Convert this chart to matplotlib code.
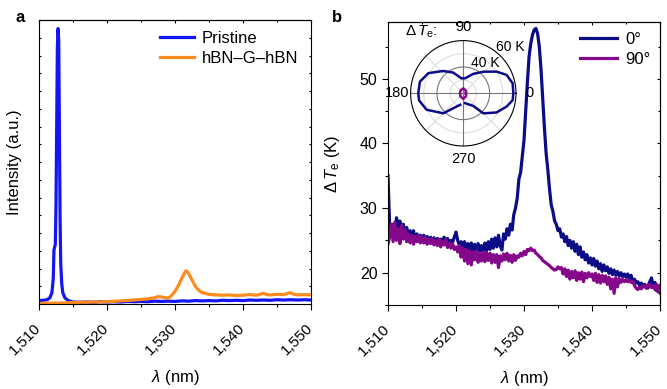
import numpy as np
import matplotlib
matplotlib.use("Agg")
import matplotlib.pyplot as plt
from matplotlib.ticker import MultipleLocator

plt.rcParams['font.family'] = ['Liberation Sans', 'DejaVu Sans']
plt.rcParams['mathtext.fontset'] = 'custom'
plt.rcParams['mathtext.rm'] = 'Liberation Sans'
plt.rcParams['mathtext.it'] = 'Liberation Sans:italic'
plt.rcParams['axes.linewidth'] = 0.8

# ---- panel a: normalised emission spectra ----
pristine_x = [1510.0, 1510.6, 1511.2, 1511.6, 1511.9, 1512.1, 1512.2, 1512.3, 1512.4,
              1512.5, 1512.6, 1512.7, 1512.8, 1512.9, 1513.0, 1513.1, 1513.2, 1513.35,
              1513.5, 1513.8, 1514.3, 1515.0, 1516.0, 1517.0, 1518.0, 1519.0, 1520.0,
              1521.0, 1522.0, 1523.0, 1524.0, 1525.0, 1526.0, 1527.0, 1528.0, 1529.0,
              1530.0, 1531.0, 1532.0, 1533.0, 1534.0, 1535.0, 1536.0, 1537.0, 1538.0,
              1539.0, 1540.0, 1541.0, 1542.0, 1543.0, 1544.0, 1545.0, 1546.0, 1547.0,
              1548.0, 1549.0, 1550.0]
pristine_y = [0.012, 0.013, 0.015, 0.022, 0.04, 0.09, 0.19, 0.20, 0.21,
              0.35, 0.62, 0.90, 0.97, 0.93, 0.62, 0.30, 0.14, 0.07,
              0.04, 0.022, 0.012, 0.007, 0.006, 0.007, 0.006, 0.008, 0.007,
              0.008, 0.007, 0.009, 0.008, 0.009, 0.008, 0.010, 0.009, 0.010,
              0.009, 0.011, 0.010, 0.012, 0.011, 0.012, 0.011, 0.013, 0.012,
              0.013, 0.012, 0.014, 0.013, 0.014, 0.013, 0.015, 0.014, 0.015,
              0.014, 0.015, 0.014]

hbn_x = [1510.0, 1512.0, 1514.0, 1516.0, 1518.0, 1520.0, 1522.0, 1524.0, 1526.0,
         1527.0, 1527.5, 1528.0, 1528.5, 1529.0, 1529.5, 1530.0, 1530.5, 1531.0,
         1531.3, 1531.6, 1531.9, 1532.2, 1532.6, 1533.0, 1533.5, 1534.0, 1535.0,
         1536.0, 1537.0, 1538.0, 1539.0, 1540.0, 1541.0, 1542.0, 1542.5, 1543.0,
         1543.5, 1544.0, 1545.0, 1546.0, 1546.5, 1547.0, 1547.5, 1548.0, 1549.0, 1550.0]
hbn_y = [0.002, 0.003, 0.004, 0.006, 0.007, 0.008, 0.011, 0.014, 0.018,
         0.022, 0.026, 0.025, 0.022, 0.020, 0.030, 0.045, 0.065, 0.090,
         0.105, 0.117, 0.112, 0.098, 0.080, 0.062, 0.048, 0.040, 0.034,
         0.032, 0.031, 0.032, 0.030, 0.031, 0.033, 0.031, 0.034, 0.038,
         0.033, 0.032, 0.034, 0.033, 0.037, 0.040, 0.034, 0.032, 0.033, 0.032]

# ---- panel b: electron temperature vs wavelength ----
dte_0deg = [35.0,
    27.0, 26.0, 27.5, 26.0, 28.5, 27.0, 28.0, 26.5, 27.5, 26.0, 27.0, 25.5,
    26.5, 25.5, 26.5, 25.0, 26.0, 25.0, 25.8, 25.0, 25.8, 25.0, 25.6, 25.0,
    25.5, 24.8, 25.4, 24.8, 25.3, 24.6, 25.2, 24.8, 25.5, 24.7, 25.3, 24.5,
    25.0, 24.7, 25.5, 26.3, 25.0, 24.2, 24.8, 24.0, 24.8, 23.5, 24.5, 23.4,
    24.6, 23.2, 24.4, 23.5, 24.5, 23.3, 24.2, 23.2, 24.6, 23.4, 24.8, 23.6,
    25.2, 23.8, 25.4, 24.0, 25.8, 24.2, 23.5, 26.0, 25.2, 26.8, 25.8, 27.5,
    26.6, 29.0, 30.0, 31.5, 34.5, 35.5, 38.0, 40.5, 45.0, 49.5, 53.5, 55.5,
    56.8, 57.6, 57.8, 57.0, 55.0, 51.5, 47.0, 42.5, 38.5, 36.0, 33.0, 30.5,
    29.5, 28.0, 27.5, 26.5, 26.8, 25.5, 26.0, 24.8, 25.6, 24.2, 25.0, 23.8,
    24.8, 23.3, 24.4, 22.8, 24.0, 22.4, 23.2, 22.0, 22.8, 21.5, 22.3, 21.2,
    22.2, 21.0, 21.8, 20.6, 21.4, 20.2, 21.2, 20.3, 20.9, 19.9, 20.6, 19.7,
    20.4, 19.6, 20.2, 19.5, 20.0, 19.4, 19.8, 19.3, 19.8, 19.0, 19.6, 18.5,
    19.0, 18.4, 18.6, 18.0, 18.4, 17.8, 18.2, 17.6, 18.0, 18.6, 19.2, 17.8,
    18.5, 17.2, 17.6, 16.9]
dte_90deg = [24.5,
    25.5, 27.5, 24.8, 27.8, 25.0, 26.8, 24.5, 27.3, 25.2, 26.6, 24.8, 26.0,
    24.6, 25.8, 24.4, 25.6, 24.8, 25.8, 24.6, 25.5, 24.6, 25.4, 24.4, 25.2,
    24.5, 25.3, 24.3, 25.0, 24.2, 25.2, 24.0, 24.8, 24.3, 25.1, 23.9, 24.6,
    23.8, 24.5, 23.6, 24.0, 23.2, 24.2, 22.4, 23.8, 21.8, 23.6, 21.4, 23.4,
    21.2, 23.2, 22.0, 23.4, 21.6, 23.0, 21.8, 23.2, 21.7, 23.1, 21.9, 23.0,
    21.5, 22.8, 21.6, 22.8, 20.8, 22.6, 21.8, 22.9, 22.0, 23.0, 21.8, 22.7,
    21.6, 22.8, 21.9, 22.6, 22.4, 23.0, 22.6, 23.3, 22.8, 23.6, 23.4, 23.8,
    23.4, 23.5, 23.0, 22.8, 22.5, 22.3, 21.9, 21.7, 21.5, 21.3, 21.1, 20.8,
    20.6, 20.4, 20.5, 20.9, 20.6, 20.8, 19.8, 20.6, 19.4, 20.4, 19.0, 20.2,
    19.2, 20.3, 18.8, 20.0, 19.0, 20.1, 18.6, 19.9, 19.2, 20.0, 19.4, 19.8,
    18.8, 19.9, 18.5, 19.7, 18.4, 19.6, 18.6, 19.5, 18.2, 19.3, 17.5, 19.0,
    16.8, 19.2, 17.8, 19.1, 18.5, 19.0, 18.6, 18.9, 18.6, 18.8, 18.5, 18.7,
    18.0, 17.6, 17.4, 17.8, 17.5, 18.0, 17.8, 18.0, 17.6, 18.2, 17.7, 18.0,
    17.4, 18.2, 17.0, 18.0]
lam_0deg = np.linspace(1510, 1550, len(dte_0deg))
lam_90deg = np.linspace(1510, 1550, len(dte_90deg))

# ---- inset: polarisation dependence of peak dTe ----
pol_angle_0 = [280, 308, 315, 330, 343, 352, 360, 371.5, 383, 393, 407, 423, 443,
               457, 476, 492, 510, 525, 540, 549, 564, 585, 596, 615]
pol_dte_0 = [27.6, 32.1, 41.5, 49.1, 54.4, 57.8, 58.0, 58.2, 55.7, 50.2, 42.4, 36.5, 31.5,
             31.4, 37.5, 42.8, 50.6, 54.1, 54.2, 54.0, 50.6, 41.5, 33.7, 29.0]
pol_angle_90 = [0, 45, 90, 135, 180, 225, 270, 315, 360]
pol_dte_90 = [22.0, 22.8, 23.8, 23.0, 22.5, 23.2, 24.3, 23.0, 22.0]

x_ticks = [1510, 1520, 1530, 1540, 1550]
x_tick_labels = ['1,510', '1,520', '1,530', '1,540', '1,550']
b_yticks = [20, 30, 40, 50]

c_pristine = '#1414f5'
c_hbn = '#ff8a1e'
c_0 = '#0c0c86'
c_90 = '#86088a'

fig = plt.figure(figsize=(6.67, 3.89), dpi=100)
ax_a = fig.add_axes([39/667, 1-304/389, 272/667, 284/389])
ax_b = fig.add_axes([388/667, 1-305/389, 272/667, 283/389])


def style_x(ax):
    ax.set_xlim(1510, 1550)
    ax.set_xticks(x_ticks)
    ax.set_xticklabels(x_tick_labels)
    ax.xaxis.set_minor_locator(MultipleLocator(5))
    ax.tick_params(axis='x', which='both', direction='out', top=False, labelsize=11, pad=12)
    ax.tick_params(axis='x', which='major', length=4, width=0.8)
    ax.tick_params(axis='x', which='minor', length=2.5, width=0.8)
    plt.setp(ax.get_xticklabels(), rotation=45, ha='right', va='center', rotation_mode='anchor')
    top = ax.secondary_xaxis('top')
    top.set_xticks(x_ticks)
    top.xaxis.set_minor_locator(MultipleLocator(5))
    top.tick_params(which='both', direction='in', labeltop=False, width=0.8)
    top.tick_params(which='major', length=2.5)
    top.tick_params(which='minor', length=1.5)
    ax.set_xlabel(r'$\lambda$ (nm)', fontsize=12)


# panel a
ax_a.plot(pristine_x, pristine_y, color=c_pristine, lw=2.3, label='Pristine')
ax_a.plot(hbn_x, hbn_y, color=c_hbn, lw=2.3, label='hBN–G–hBN')
ax_a.set_ylim(0, 1)
ax_a.yaxis.set_major_locator(MultipleLocator(1/16))
ax_a.tick_params(axis='y', direction='in', left=True, right=True, labelleft=False,
                 length=1.5, width=0.8)
style_x(ax_a)
ax_a.set_ylabel('Intensity (a.u.)', fontsize=12)
ax_a.yaxis.set_label_coords(-0.062, 0.5)
ax_a.xaxis.set_label_coords(0.5, -0.225)
ax_a.legend(loc='upper right', bbox_to_anchor=(0.985, 0.99), frameon=False, fontsize=12,
            handlelength=2.0, handletextpad=0.5, borderpad=0, labelspacing=0.3)

# panel b
ax_b.plot(lam_0deg, dte_0deg, color=c_0, lw=2.3, label='0°')
ax_b.plot(lam_90deg, dte_90deg, color=c_90, lw=2.3, label='90°')
ax_b.set_ylim(15, 58.8)
ax_b.set_yticks(b_yticks)
ax_b.yaxis.set_minor_locator(MultipleLocator(5))
ax_b.tick_params(axis='y', which='both', direction='out', right=False, labelsize=11.5, width=0.8)
ax_b.tick_params(axis='y', which='major', length=4)
ax_b.tick_params(axis='y', which='minor', length=2.5)
right = ax_b.secondary_yaxis('right')
right.set_yticks(b_yticks)
right.yaxis.set_minor_locator(MultipleLocator(5))
right.tick_params(which='both', direction='in', labelright=False, width=0.8)
right.tick_params(which='major', length=2.5)
right.tick_params(which='minor', length=1.5)
style_x(ax_b)
ax_b.set_ylabel(r'$\Delta\,T_{\rm e}$ (K)', fontsize=12)
ax_b.yaxis.set_label_coords(-0.17, 0.5)
ax_b.xaxis.set_label_coords(0.5, -0.225)
ax_b.legend(loc='upper right', bbox_to_anchor=(0.995, 0.995), frameon=False, fontsize=12,
            handlelength=2.2, handletextpad=0.5, borderpad=0, labelspacing=0.3)
ax_b.text(0.062, 0.965, r'$\Delta\,T_{\rm e}$:', transform=ax_b.transAxes, fontsize=11,
          ha='left', va='center')

# polar inset
ax_p = fig.add_axes([(463.3-52.7)/667, 1-(93.3+52.7)/389, 105.4/667, 105.4/389],
                    projection='polar')
ax_p.set_ylim(20, 60)
ax_p.grid(False)
ax_p.set_yticks([])
ring = np.linspace(0, 2*np.pi, 200)
for rr, cc in [(30, '#dddddd'), (50, '#dddddd'), (40, '#777777')]:
    ax_p.plot(ring, np.full_like(ring, rr), color=cc, lw=0.8, zorder=1)
for ang in [45, 135, 225, 315]:
    ax_p.plot([np.deg2rad(ang)]*2, [20, 60], color='#dddddd', lw=0.8, zorder=1)
for ang in [0, 90, 180, 270]:
    ax_p.plot([np.deg2rad(ang)]*2, [20, 60], color='#777777', lw=0.8, zorder=1)
ax_p.set_thetagrids([0, 90, 180, 270], labels=['0', '90', '180', '270'], fontsize=10.5)
ax_p.tick_params(axis='x', pad=-1)
ax_p.spines['polar'].set_linewidth(0.8)
ax_p.plot(np.deg2rad(pol_angle_0), pol_dte_0, color=c_0, lw=1.8, zorder=3)
ax_p.plot(np.deg2rad(pol_angle_90), pol_dte_90, color=c_90, lw=1.8, zorder=3)
ax_p.text(np.deg2rad(45), 70, '60 K', fontsize=10, ha='center', va='center')
ax_p.text(np.deg2rad(54), 48, '40 K', fontsize=10, ha='center', va='center')

fig.text(20/667, 1-18/389, 'a', fontsize=12, fontweight='bold', ha='center', va='center')
fig.text(337/667, 1-18/389, 'b', fontsize=12, fontweight='bold', ha='center', va='center')

fig.savefig('out.png', dpi=100)
